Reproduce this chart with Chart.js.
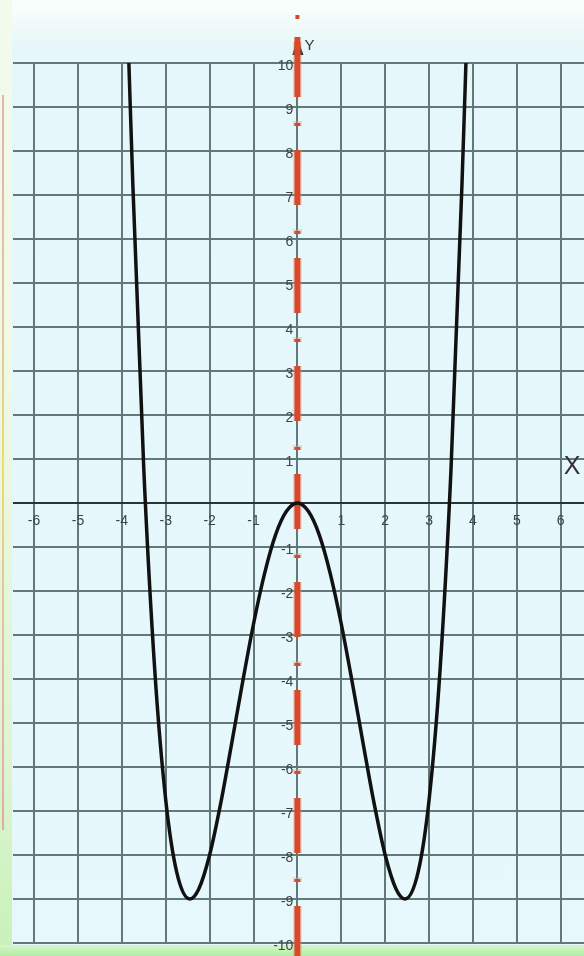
<!DOCTYPE html>
<html>
<head>
<meta charset="utf-8">
<script src="https://cdn.jsdelivr.net/npm/chart.js"></script>
<style>
  html, body { margin: 0; padding: 0; }
  body {
    width: 584px; height: 956px; overflow: hidden; position: relative;
    background: linear-gradient(to bottom, #fbfffc 0px, #f1fbf9 22px, #e5f7fa 48px, #e6f8fb 100%);
  }
  #strip { position: absolute; left: 0; top: 0; width: 12px; height: 956px;
    background: linear-gradient(to bottom, #f3fbec, #eef9e6 40%, #dcf5d0 80%, #c8f1b9); }
  #strip-line { position: absolute; left: 2px; top: 95px; width: 2px; height: 735px;
    background: linear-gradient(to bottom, #e6b0b0, #e8c79a 35%, #f0dc70 50%, #e8c79a 65%, #e2a9a9); }
  #foot { position: absolute; left: 0; bottom: 0; width: 584px; height: 11px;
    background: linear-gradient(to bottom, #d6f6cb, #b3eda2); }
  #graph { position: absolute; left: 0; top: 0; }
</style>
</head>
<body>
<div id="strip"></div>
<div id="strip-line"></div>
<div id="foot"></div>
<canvas id="graph" width="584" height="956"></canvas>
<script>
// axis ticks
const xTicks = [-6, -5, -4, -3, -2, -1, 0, 1, 2, 3, 4, 5, 6];
const yTicks = [-10, -9, -8, -7, -6, -5, -4, -3, -2, -1, 0, 1, 2, 3, 4, 5, 6, 7, 8, 9, 10];

// points of the curve
const curveX = [-3.84, -3.75, -3.5, -3.25, -3, -2.75, -2.45, -2.25, -2, -1.75, -1.5, -1.25, -1, -0.75, -0.5, -0.25,
  0, 0.25, 0.5, 0.75, 1, 1.25, 1.5, 1.75, 2, 2.25, 2.45, 2.75, 3, 3.25, 3.5, 3.75, 3.84];
const curveY = [10, 7.25, 0.77, -3.8, -6.75, -8.39, -9, -8.78, -8, -6.84, -5.48, -4.08, -2.75, -1.61, -0.73, -0.19,
  0, -0.19, -0.73, -1.61, -2.75, -4.08, -5.48, -6.84, -8, -8.78, -9, -8.39, -6.75, -3.8, 0.77, 7.25, 10];

const gridColor = '#62797a';
const labelFont = '14px "Liberation Sans", Arial, sans-serif';

// red Y axis with arrow, tick numbers and axis names
const coordAxes = {
  id: 'coordAxes',
  beforeDatasetsDraw(chart) {
    const c = chart.ctx;
    const x0 = chart.scales.x.getPixelForValue(0);
    c.save();
    // arrow head
    c.fillStyle = '#1a1a1a';
    c.beginPath();
    c.moveTo(x0, 37);
    c.lineTo(x0 + 6, 55);
    c.lineTo(x0 - 5, 55);
    c.closePath();
    c.fill();
    // soft halo, then the dashed red line
    c.setLineDash([55, 24, 5, 24]);
    c.strokeStyle = 'rgba(246, 150, 110, 0.35)';
    c.lineWidth = 9;
    c.beginPath();
    c.moveTo(x0, 42);
    c.lineTo(x0, 956);
    c.stroke();
    c.setLineDash([55, 26, 3, 24]);
    c.strokeStyle = '#d8482a';
    c.lineWidth = 6;
    c.beginPath();
    c.moveTo(x0, 42);
    c.lineTo(x0, 956);
    c.stroke();
    c.setLineDash([]);
    c.beginPath();
    c.moveTo(x0, 37);
    c.lineTo(x0, 50);
    c.stroke();
    // dot above the arrow
    c.fillStyle = '#d8482a';
    c.fillRect(x0 - 2, 15, 4, 4);
    c.restore();
  },
  afterDraw(chart) {
    const c = chart.ctx;
    const xs = chart.scales.x, ys = chart.scales.y;
    const x0 = xs.getPixelForValue(0), y0 = ys.getPixelForValue(0);
    c.save();
    c.font = labelFont;
    c.fillStyle = '#3d4646';
    c.textBaseline = 'middle';
    c.textAlign = 'center';
    xTicks.forEach(v => {
      if (v !== 0) c.fillText(String(v), xs.getPixelForValue(v), y0 + 18);
    });
    c.textAlign = 'right';
    yTicks.forEach(v => {
      if (v !== 0) c.fillText(String(v), x0 - 4, ys.getPixelForValue(v) + 3);
    });
    c.fillStyle = '#333';
    c.textAlign = 'left';
    c.font = '15px "Liberation Sans", Arial, sans-serif';
    c.fillText('Y', x0 + 7, 46);
    c.textAlign = 'center';
    c.font = '25px "Liberation Sans", Arial, sans-serif';
    c.fillText('X', 572, 467);
    c.restore();
  }
};

const ctx = document.getElementById('graph').getContext('2d');
const graph = new Chart(ctx, {
  type: 'line',
  data: {
    datasets: [{
      data: curveX.map((x, i) => ({ x: x, y: curveY[i] })),
      borderColor: '#111111',
      borderWidth: 3.5,
      pointRadius: 0,
      cubicInterpolationMode: 'monotone',
      fill: false
    }]
  },
  options: {
    responsive: false,
    animation: false,
    layout: { padding: { left: 13, right: 0, top: 63, bottom: 13 } },
    plugins: {
      legend: { display: false },
      tooltip: { enabled: false }
    },
    scales: {
      x: {
        type: 'linear',
        min: -6.48,
        max: 6.53,
        afterBuildTicks: axis => { axis.ticks = xTicks.map(v => ({ value: v })); },
        ticks: { display: false },
        border: { display: false },
        grid: { color: gridColor, lineWidth: 2, drawTicks: false }
      },
      y: {
        min: -10,
        max: 10,
        afterBuildTicks: axis => { axis.ticks = yTicks.map(v => ({ value: v })); },
        ticks: { display: false },
        border: { display: false },
        grid: {
          color: c => (c.tick && c.tick.value === 0 ? '#2a3434' : gridColor),
          lineWidth: 2,
          drawTicks: false
        }
      }
    }
  },
  plugins: [coordAxes]
});
</script>
</body>
</html>
